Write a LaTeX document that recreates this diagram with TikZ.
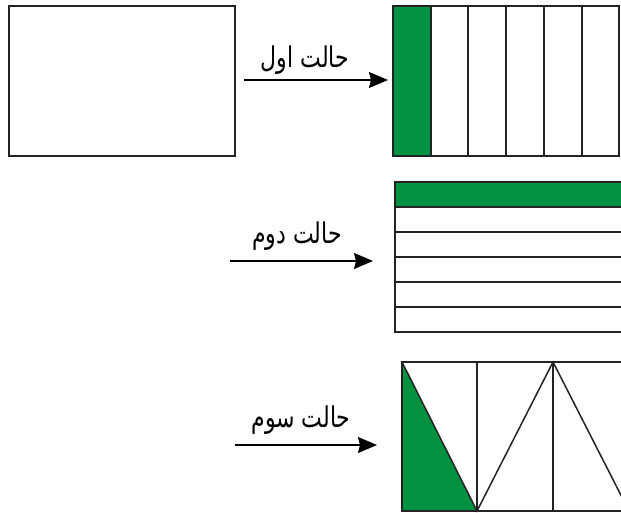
\documentclass[tikz,border=0pt]{standalone}
\usepackage{fontspec}
\usepackage{graphicx}
\usetikzlibrary{arrows.meta}
\TeXXeTstate=1
\newfontfamily\arabicfont[Script=Arabic]{DejaVu Sans}
\definecolor{fillgreen}{RGB}{0,146,64}
\definecolor{edge}{RGB}{35,35,35}
\newcommand{\tallcap}[1]{\scalebox{1}[1.3]{\beginR #1\endR}}
\begin{document}
\begin{tikzpicture}[x=1pt,y=-1pt,
  frame/.style={draw=edge,line width=1.8pt},
  divider/.style={draw=edge,line width=1.5pt},
  shaded/.style={fill=fillgreen,draw=none},
  arr/.style={-{Stealth[length=19pt,width=16pt,inset=2pt]},line width=1.5pt,black},
  caption/.style={font=\arabicfont\fontsize{22}{26}\selectfont,inner sep=0pt}]
\useasboundingbox (0,0) rectangle (621,513);
\clip (0,0) rectangle (621,513);

% plain starting rectangle
\draw[frame] (9,6) rectangle (235,156);

% case 1: vertical strips
\fill[shaded] (393,6) rectangle (431,156);
\foreach \x in {431,468,506,544,582}
  \draw[divider] (\x,6) -- (\x,156);
\draw[frame] (393,6) rectangle (619,156);

% case 2: horizontal strips
\fill[shaded] (395,182) rectangle (630,207);
\foreach \y in {207,232,257,282,307}
  \draw[divider] (395,\y) -- (630,\y);
\draw[frame] (395,182) rectangle (630,332);

% case 3: triangles
\fill[shaded] (402,362) -- (477,511) -- (402,511) -- cycle;
\foreach \x in {477,553}
  \draw[divider] (\x,362) -- (\x,511);
\draw[divider] (402,362) -- (477,511) -- (553,362) -- (629,511);
\draw[frame] (402,362) rectangle (640,511);

% arrows with captions
\coordinate (s1) at (244,80);  \coordinate (e1) at (388,80);
\coordinate (s2) at (230,261); \coordinate (e2) at (373,261);
\coordinate (s3) at (235,445); \coordinate (e3) at (377,445);
\draw[arr] (s1) -- (e1);
\draw[arr] (s2) -- (e2);
\draw[arr] (s3) -- (e3);
\node[caption] (c1) at (305,60)  {\tallcap{حالت اول}};
\node[caption] (c2) at (297,236) {\tallcap{حالت دوم}};
\node[caption] (c3) at (301,420) {\tallcap{حالت سوم}};
\end{tikzpicture}
\end{document}
